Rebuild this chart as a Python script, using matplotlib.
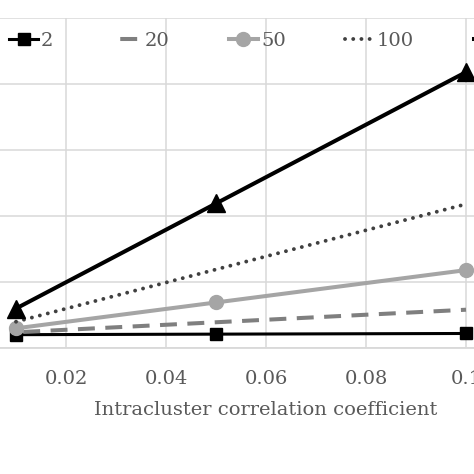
import matplotlib.pyplot as plt

icc = [0.01, 0.05, 0.1]
cluster_sizes = ["2", "20", "50", "100", "200"]
de_2 = [1.01, 1.05, 1.1]
de_20 = [1.19, 1.95, 2.9]
de_50 = [1.49, 3.45, 5.9]
de_100 = [1.99, 5.95, 10.9]
de_200 = [2.99, 10.95, 20.9]
x_ticks = [0.02, 0.04, 0.06, 0.08, 0.1]

plt.rcParams["font.family"] = "DejaVu Serif"
txt = "#595959"

fig = plt.figure(figsize=(4.74, 4.74), dpi=100)
# plot area is wider than the picture: the y labels and right part are cropped
ax = fig.add_axes([-34 / 474, 126 / 474, 600 / 474, 330 / 474])

ax.plot(icc, de_2, color="black", lw=2.2, marker="s", ms=8.5, label=cluster_sizes[0])
ax.plot(icc, de_20, color="#7f7f7f", lw=2.9, linestyle=(5.0, (4.2, 2.6)), label=cluster_sizes[1])
ax.plot(icc, de_50, color="#a5a5a5", lw=2.9, marker="o", ms=10, label=cluster_sizes[2])
ax.plot(icc, de_100, color="#404040", lw=2.8, linestyle=(0, (0.01, 2.1)),
        dash_capstyle="round", label=cluster_sizes[3])
ax.plot(icc, de_200, color="black", lw=2.9, marker="^", ms=12.5, label=cluster_sizes[4])

ax.set_xlim(0, 0.12)
ax.set_ylim(0, 25)
ax.set_xticks(x_ticks)
ax.set_xticklabels(["0.02", "0.04", "0.06", "0.08", "0.1"], color=txt, fontsize=14)
ax.set_yticks([0, 5, 10, 15, 20, 25])
ax.set_yticklabels([])
ax.tick_params(length=0, pad=16)
ax.grid(color="#d9d9d9", lw=1.1)
ax.set_axisbelow(True)
for s in ["top", "left", "right"]:
    ax.spines[s].set_visible(False)
ax.spines["bottom"].set_color("#d9d9d9")
ax.spines["bottom"].set_linewidth(1.3)
ax.set_xlabel("Intracluster correlation coefficient", color=txt, fontsize=14, labelpad=9)

fig.legend(loc="center left", bbox_to_anchor=(9 / 474, 1 - 41 / 474), ncol=5, frameon=False,
           fontsize=14, handlelength=1.5, handletextpad=0.15, columnspacing=3.05,
           labelcolor=txt, borderaxespad=0, borderpad=0)

fig.savefig("out.png", dpi=100)
